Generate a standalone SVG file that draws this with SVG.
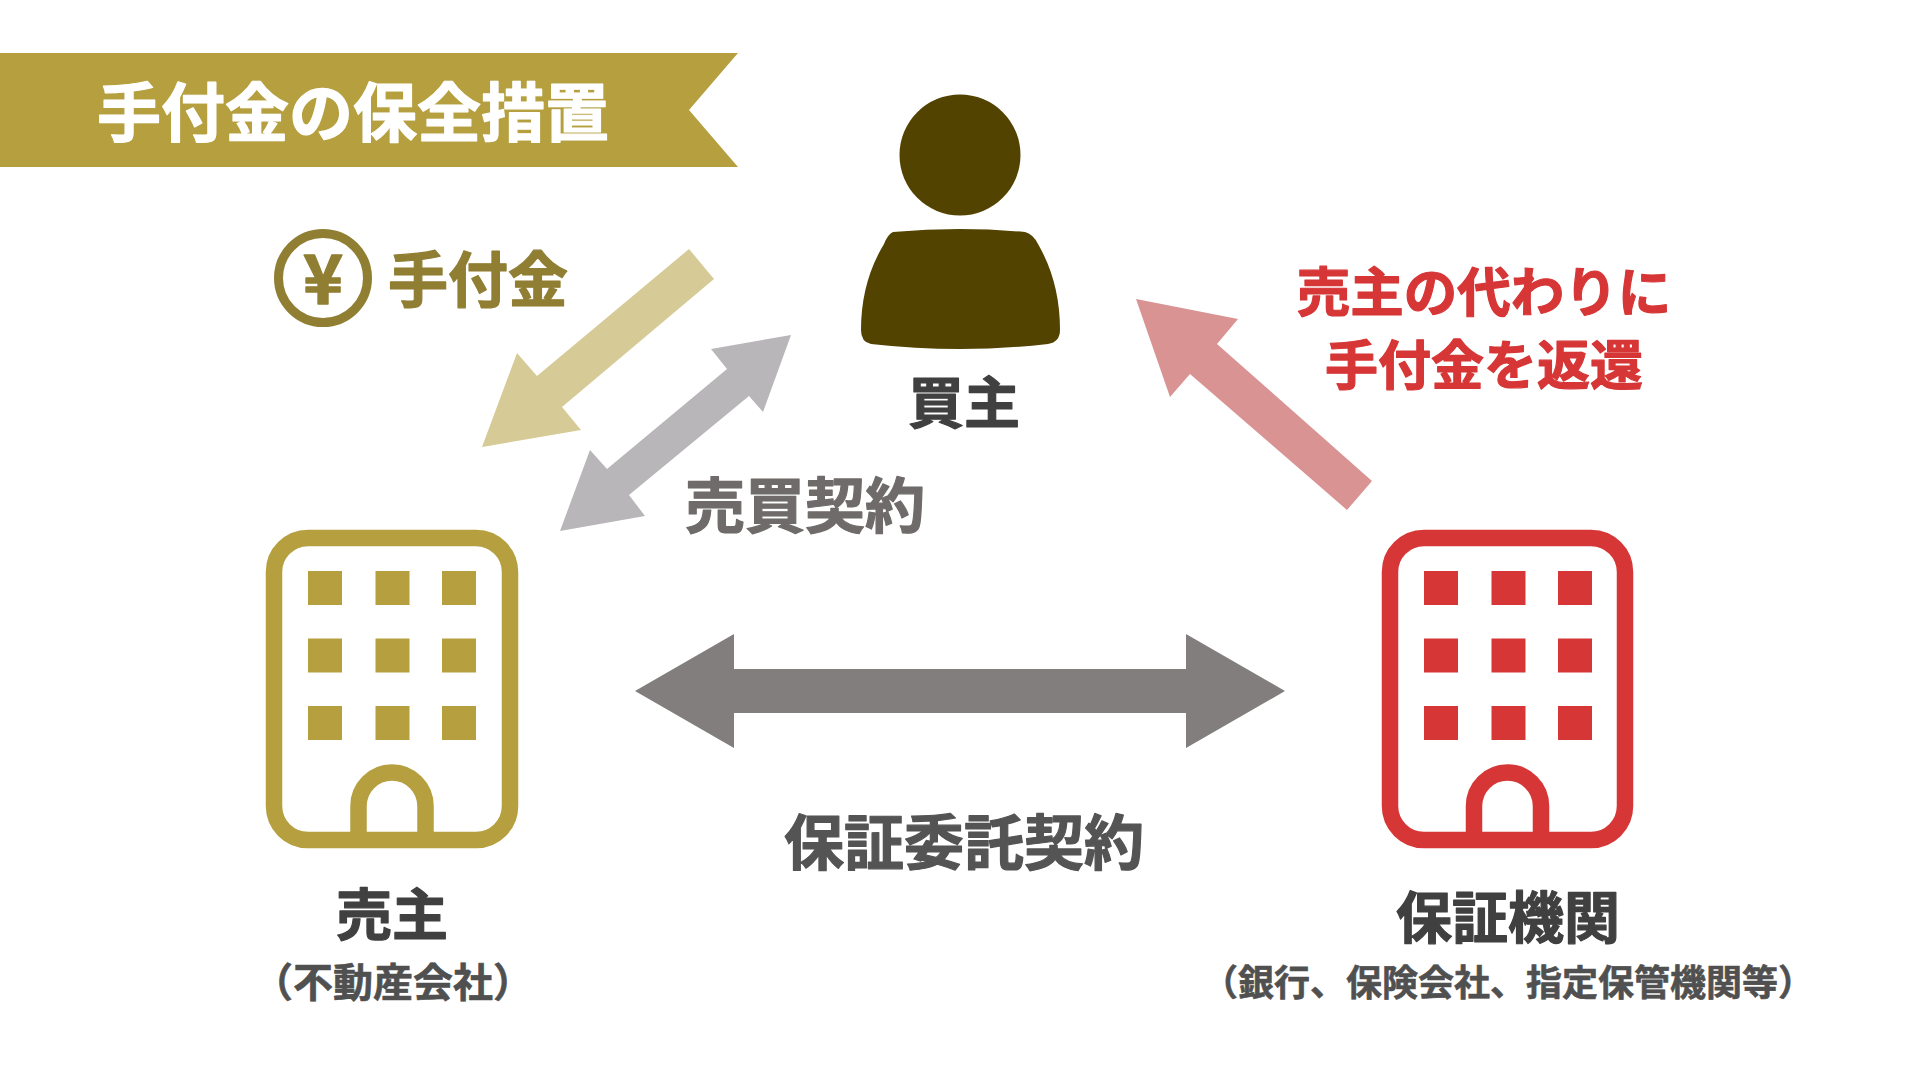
<svg xmlns="http://www.w3.org/2000/svg" width="1920" height="1080" viewBox="0 0 1920 1080">
<style>
text{font-family:"Noto Sans CJK JP","Noto Sans",sans-serif;font-weight:700;text-anchor:middle;stroke-width:1.2;stroke-linejoin:round}
.b{fill:none;stroke-width:16.5}
.gold{fill:#b59f3f}.red{fill:#d73636}
.dark{fill:#404040;stroke:#404040}
.sub{fill:#505050;stroke:#505050;stroke-width:.6}
.olive{fill:#907e33;stroke:#907e33}
.rt{fill:#d73636;stroke:#d73636}
</style>
<defs>
<g id="windows">
<rect x="0" y="0" width="34" height="34"/><rect x="67.5" y="0" width="34" height="34"/><rect x="134" y="0" width="34" height="34"/>
<rect x="0" y="67.5" width="34" height="34"/><rect x="67.5" y="67.5" width="34" height="34"/><rect x="134" y="67.5" width="34" height="34"/>
<rect x="0" y="135" width="34" height="34"/><rect x="67.5" y="135" width="34" height="34"/><rect x="134" y="135" width="34" height="34"/>
</g>
</defs>
<rect width="1920" height="1080" fill="#fff"/>
<g id="banner">
<polygon points="0,53 738,53 689,110 738,167 0,167" fill="#b59f3f"/>
<text x="353" y="136" font-size="64" fill="#fff" stroke="#fff" stroke-width="2">手付金の保全措置</text>
</g>
<g id="legend">
<circle cx="323" cy="278" r="44.5" fill="none" stroke="#907e33" stroke-width="9"/>
<text x="323" y="304" font-size="68" class="olive" style="stroke-width:1.5">¥</text>
<text x="478" y="302" font-size="60" class="olive">手付金</text>
</g>
<g id="connectors">
<polygon id="deposit" points="689,249 714,279 562,407 581,430 482,447 517,353 537,376" fill="#d6cb96"/>
<polygon id="sale" points="791,335 711,349 727,369 607,469 590,450 560,531 645,516 629,495 749,396 763,412" fill="#b8b6b8"/>
<polygon id="refund" points="1136,299 1238,319 1217,344 1372,481 1347,510 1190,374 1170,397" fill="#d99393"/>
<polygon id="guarantee" points="635,691 734,634 734,669 1186,669 1186,634 1285,691 1186,748 1186,713 734,713 734,748" fill="#827e7d"/>
</g>
<g id="buyer">
<circle cx="960" cy="155" r="60.5" fill="#524300"/>
<path d="M893,232 Q960,226 1025,232 Q1033,234 1038,244 Q1060,282 1060,330 Q1060,342 1048,344 Q960,354 871,344 Q861,342 861,330 Q861,282 884,244 Q888,234 893,232Z" fill="#524300"/>
<text x="964" y="423" font-size="56" class="dark">買主</text>
</g>
<g id="seller">
<rect x="274" y="538" width="236" height="302" rx="34" class="b" stroke="#b59f3f"/>
<use href="#windows" x="308" y="571" class="gold"/>
<path d="M358.500,840 V806 A33.500,33.500 0 0 1 425.500,806 V840" class="b" stroke="#b59f3f"/>
<text x="392" y="935" font-size="56" class="dark">売主</text>
<text x="393" y="997" font-size="40" class="sub">（不動産会社）</text>
</g>
<g id="guarantor">
<rect x="1390" y="538" width="235" height="302" rx="34" class="b" stroke="#d73636"/>
<use href="#windows" x="1424" y="571" class="red"/>
<path d="M1474,840 V806 A33.500,33.500 0 0 1 1541,806 V840" class="b" stroke="#d73636"/>
<text x="1508" y="938" font-size="56" class="dark">保証機関</text>
<text x="1508" y="996" font-size="36" class="sub">（銀行、保険会社、指定保管機関等）</text>
</g>
<g id="labels">
<text x="805" y="528" font-size="60" fill="#6f6b6a" stroke="#6f6b6a">売買契約</text>
<text x="964" y="865" font-size="60" fill="#545454" stroke="#545454">保証委託契約</text>
<text x="1484" y="312" font-size="53.500" class="rt">売主の代わりに</text>
<text x="1484" y="385" font-size="53" class="rt">手付金を返還</text>
</g>
</svg>
